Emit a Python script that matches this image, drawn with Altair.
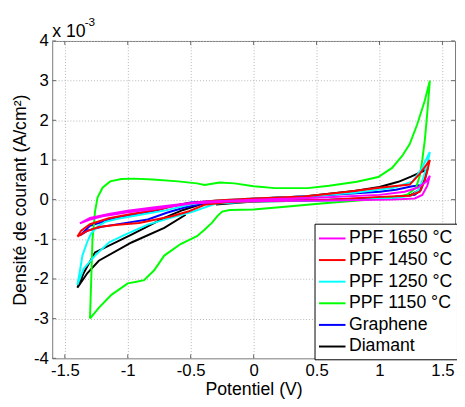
import altair as alt
import pandas as pd

# ---------------- data (current in 1e-3 A/cm2) ----------------
series_names = ["PPF 1650 °C", "PPF 1450 °C", "PPF 1250 °C", "PPF 1150 °C", "Graphene", "Diamant"]
series_colors = ["#ff00ff", "#ff0000", "#00ffff", "#00ff00", "#0000ff", "#000000"]

ppf1650_x = [-1.38, -1.30, -1.15, -1.00, -0.80, -0.60, -0.40, 0.00, 0.50, 1.00, 1.20, 1.30, 1.37, 1.40,
             1.38, 1.34, 1.28, 1.10, 0.60, 0.20, -0.20, -0.50, -0.80, -1.00, -1.20, -1.30, -1.38]
ppf1650_y = [-0.60, -0.46, -0.36, -0.28, -0.20, -0.12, -0.05, 0.00, 0.05, 0.12, 0.20, 0.30, 0.45, 0.60,
             0.35, 0.12, 0.03, 0.00, -0.02, -0.03, -0.05, -0.10, -0.24, -0.32, -0.42, -0.50, -0.60]

ppf1450_x = [-1.40, -1.37, -1.30, -1.15, -0.97, -0.75, -0.56, -0.30, 0.00, 0.40, 0.75, 1.00, 1.24, 1.32, 1.40,
             1.38, 1.35, 1.32, 1.24, 1.00, 0.60, 0.20, -0.20, -0.39, -0.52, -0.65, -0.91, -1.10, -1.23, -1.33, -1.40]
ppf1450_y = [-0.93, -0.78, -0.62, -0.47, -0.36, -0.24, -0.11, -0.02, 0.03, 0.08, 0.20, 0.30, 0.38, 0.65, 1.00,
             0.73, 0.40, 0.20, 0.10, 0.07, 0.00, -0.03, -0.06, -0.13, -0.30, -0.42, -0.59, -0.64, -0.69, -0.80, -0.93]

ppf1250_x = [-1.40, -1.38, -1.36, -1.32, -1.29, -1.24, -1.18, -1.08, -0.90, -0.70, -0.50, -0.30, 0.00, 0.40, 0.80,
             1.11, 1.26, 1.33, 1.40,
             1.38, 1.35, 1.31, 1.25, 1.10, 0.80, 0.40, 0.00, -0.30, -0.48, -0.66, -0.84, -1.02, -1.15, -1.26, -1.35, -1.40]
ppf1250_y = [-2.15, -1.80, -1.41, -1.05, -0.85, -0.68, -0.56, -0.48, -0.38, -0.27, -0.12, -0.02, 0.03, 0.08, 0.17,
             0.30, 0.45, 0.75, 1.20,
             0.90, 0.57, 0.24, 0.10, 0.03, -0.01, -0.03, -0.05, -0.10, -0.30, -0.46, -0.63, -0.88, -1.08, -1.41, -1.74, -2.15]

ppf1150_x = [-1.30, -1.29, -1.28, -1.26, -1.24, -1.20, -1.14, -1.05, -0.95, -0.80, -0.60, -0.45, -0.39, -0.33, -0.27,
             -0.15, 0.00, 0.17, 0.43, 0.60, 0.82, 0.99, 1.10, 1.18, 1.24, 1.30, 1.36, 1.40,
             1.38, 1.36, 1.34, 1.32, 1.29, 1.22, 1.10, 0.88, 0.56, 0.25, 0.00, -0.19, -0.25, -0.29, -0.33, -0.39,
             -0.45, -0.58, -0.71, -0.79, -0.87, -0.93, -1.00, -1.13, -1.23, -1.30]
ppf1150_y = [-3.00, -2.00, -1.00, -0.30, 0.05, 0.30, 0.46, 0.52, 0.53, 0.51, 0.46, 0.41, 0.37, 0.40, 0.43,
             0.41, 0.34, 0.29, 0.29, 0.35, 0.45, 0.57, 0.80, 1.10, 1.40, 1.90, 2.50, 3.00,
             2.20, 1.50, 1.00, 0.60, 0.30, 0.12, 0.06, -0.01, -0.09, -0.18, -0.25, -0.26, -0.30, -0.42, -0.58, -0.76,
             -0.92, -1.12, -1.41, -1.78, -2.03, -2.07, -2.11, -2.40, -2.73, -3.00]

graphene_x = [-1.38, -1.30, -1.10, -0.90, -0.76, -0.66, -0.50, 0.00, 0.50, 1.00, 1.13, 1.25, 1.34,
              1.33, 1.28, 1.10, 0.60, 0.00, -0.40, -0.55, -0.69, -0.84, -1.00, -1.20, -1.32, -1.38]
graphene_y = [-0.90, -0.66, -0.46, -0.36, -0.26, -0.17, -0.07, 0.02, 0.10, 0.20, 0.25, 0.33, 0.37,
              0.25, 0.12, 0.06, 0.00, -0.04, -0.10, -0.20, -0.33, -0.50, -0.58, -0.68, -0.78, -0.90]

diamant_x = [-0.54, -0.71, -0.97, -1.23, -1.32, -1.40,
             -1.35, -1.26, -0.97, -0.71, -0.56, -0.40, 0.00, 0.40, 0.80, 1.00, 1.15, 1.25, 1.32, 1.38,
             1.36, 1.32, 1.25, 1.10, 0.80, 0.40, 0.00, -0.30]
diamant_y = [-0.38, -0.71, -1.08, -1.54, -1.85, -2.22,
             -1.85, -1.33, -0.88, -0.46, -0.26, -0.10, 0.02, 0.08, 0.22, 0.32, 0.45, 0.58, 0.68, 0.76,
             0.50, 0.25, 0.12, 0.06, 0.00, -0.03, -0.05, -0.12]

x_ticks = [-1.5, -1.0, -0.5, 0.0, 0.5, 1.0, 1.5]
y_ticks = [-4, -3, -2, -1, 0, 1, 2, 3, 4]

# draw order: black first, magenta last (on top)
draw = [("Diamant", diamant_x, diamant_y), ("Graphene", graphene_x, graphene_y),
        ("PPF 1150 °C", ppf1150_x, ppf1150_y), ("PPF 1250 °C", ppf1250_x, ppf1250_y),
        ("PPF 1450 °C", ppf1450_x, ppf1450_y), ("PPF 1650 °C", ppf1650_x, ppf1650_y)]
rows = []
for name, xs, ys in draw:
    for i, (a, b) in enumerate(zip(xs, ys)):
        rows.append({"serie": name, "x": a, "y": b, "k": i})
df = pd.DataFrame(rows)

FONT = "Liberation Sans"
W, H = 410, 323
xscale = alt.Scale(domain=[-1.6, 1.6], nice=False, zero=False)
yscale = alt.Scale(domain=[-4, 4], nice=False, zero=False)

lines = alt.Chart(df).mark_line(strokeWidth=2, clip=True).encode(
    x=alt.X("x:Q", scale=xscale,
            axis=alt.Axis(values=x_ticks, title="Potentiel (V)", labelExpr="datum.value + ''",
                          grid=True, ticks=False, labelPadding=5, titlePadding=2)),
    y=alt.Y("y:Q", scale=yscale,
            axis=alt.Axis(values=y_ticks, title="Densité de courant (A/cm²)", labelExpr="datum.value + ''",
                          grid=True, ticks=False, labelPadding=4, titlePadding=4)),
    color=alt.Color("serie:N",
                    scale=alt.Scale(domain=series_names, range=series_colors),
                    legend=alt.Legend(title=None, orient="none", legendX=267, legendY=186,
                                      symbolType="M-1.35,0H1.35", symbolSize=400, symbolStrokeWidth=2,
                                      symbolOffset=3,
                                      labelFontSize=18, labelFont=FONT, labelColor="#000",
                                      strokeColor="#000", fillColor="#fff", padding=4,
                                      rowPadding=2, labelOffset=6)),
    order="k:Q",
    detail="serie:N",
)

# inward tick marks (MATLAB style)
xt = pd.DataFrame({"t": x_ticks})
yt = pd.DataFrame({"t": y_ticks})
tick_color = "#666"
xt_bot = alt.Chart(xt).mark_rule(color=tick_color).encode(
    x=alt.X("t:Q", scale=xscale), y=alt.value(H), y2=alt.value(H - 4))
xt_top = alt.Chart(xt).mark_rule(color=tick_color).encode(
    x=alt.X("t:Q", scale=xscale), y=alt.value(0), y2=alt.value(4))
yt_left = alt.Chart(yt).mark_rule(color=tick_color).encode(
    y=alt.Y("t:Q", scale=yscale), x=alt.value(0), x2=alt.value(4))
yt_right = alt.Chart(yt).mark_rule(color=tick_color).encode(
    y=alt.Y("t:Q", scale=yscale), x=alt.value(W), x2=alt.value(W - 4))

exp_base = alt.Chart(pd.DataFrame({"s": ["x 10"]})).mark_text(
    font=FONT, fontSize=18, align="left", baseline="alphabetic", color="#000").encode(
    text="s:N", x=alt.value(0), y=alt.value(-4))
exp_sup = alt.Chart(pd.DataFrame({"s": ["-3"]})).mark_text(
    font=FONT, fontSize=12, align="left", baseline="alphabetic", color="#000").encode(
    text="s:N", x=alt.value(33), y=alt.value(-15))

chart = alt.layer(lines, xt_bot, xt_top, yt_left, yt_right, exp_base, exp_sup).properties(
    width=W, height=H,
    autosize=alt.AutoSizeParams(type="none"),
    padding={"left": 45, "top": 30, "right": 2, "bottom": 46},
    background="white",
).configure_view(stroke="#777", strokeWidth=1).configure_axis(
    labelFont=FONT, titleFont=FONT, labelFontSize=17, titleFontSize=18,
    labelColor="#000", titleColor="#000", titleFontWeight="normal",
    domain=False, gridColor="#b5b5b5", gridDash=[1, 2], gridWidth=1, gridOpacity=1,
)

chart.save("out.html", embed_options={"renderer": "svg", "actions": False})
